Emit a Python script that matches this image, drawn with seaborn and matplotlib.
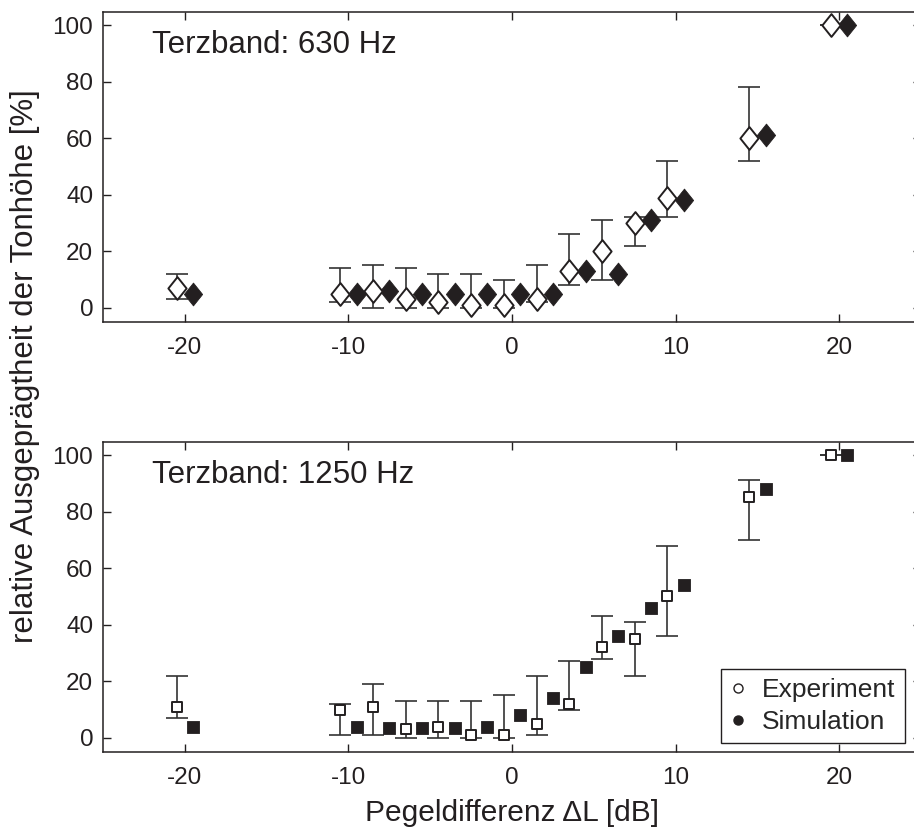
import numpy as np
import pandas as pd
import matplotlib
matplotlib.use("Agg")
import matplotlib.pyplot as plt
from matplotlib.path import Path
from matplotlib.lines import Line2D
import seaborn as sns

# Level differences (dB); experiment drawn slightly left, simulation slightly right
levels = [-20, -10, -8, -6, -4, -2, 0, 2, 4, 6, 8, 10, 15, 20]

# Third-octave band 630 Hz
exp_630 = [7, 5, 6, 3, 2, 1, 1, 3, 13, 20, 30, 39, 60, 100]
exp_630_lo = [3, 2, 0, 0, 0, 0, 0, 2, 8, 10, 22, 32, 52, 100]
exp_630_hi = [12, 14, 15, 14, 12, 12, 10, 15, 26, 31, 32, 52, 78, 100]
sim_630 = [5, 5, 6, 5, 5, 5, 5, 5, 13, 12, 31, 38, 61, 100]

# Third-octave band 1250 Hz
exp_1250 = [11, 10, 11, 3, 4, 1, 1, 5, 12, 32, 35, 50, 85, 100]
exp_1250_lo = [7, 1, 1, 0, 0, 0, 0, 1, 10, 28, 22, 36, 70, 100]
exp_1250_hi = [22, 12, 19, 13, 13, 13, 15, 22, 27, 43, 41, 68, 91, 100]
sim_1250 = [4, 4, 3.5, 3.5, 3.5, 4, 8, 14, 25, 36, 46, 54, 88, 100]

band_labels = ["Terzband: 630 Hz", "Terzband: 1250 Hz"]
x_ticks = [-20, -10, 0, 10, 20]
y_ticks = [0, 20, 40, 60, 80, 100]

INK = "#231f20"
sns.set_style("ticks")
plt.rcParams["font.family"] = ["Liberation Sans", "DejaVu Sans"]
plt.rcParams["axes.unicode_minus"] = False
plt.rcParams["axes.edgecolor"] = INK
plt.rcParams["axes.linewidth"] = 1.1

diamond = Path([(0, 1), (0.8, 0), (0, -1), (-0.8, 0), (0, 1)], closed=True)

W, H = 914, 827
fig = plt.figure(figsize=(W / 100, H / 100), dpi=100)


def frac_axes(left, right, top, bottom):
    return fig.add_axes([left / W, 1 - bottom / H, (right - left) / W, (bottom - top) / H])


ax1 = frac_axes(103, 921, 12, 322)
ax2 = frac_axes(103, 921, 442, 752)

panels = [
    (ax1, exp_630, exp_630_lo, exp_630_hi, sim_630, diamond, 270, 270),
    (ax2, exp_1250, exp_1250_lo, exp_1250_hi, sim_1250, "s", 48, 64),
]

for (ax, ev, lo, hi, sv, mk, s_exp, s_sim), label in zip(panels, band_labels):
    df = pd.DataFrame({
        "level": levels,
        "exp": ev,
        "lo": lo,
        "hi": hi,
        "sim": sv,
    })
    df["x_exp"] = df["level"] - 0.5
    df["x_sim"] = df["level"] + 0.5

    ax.errorbar(df["x_exp"], df["exp"],
                yerr=[df["exp"] - df["lo"], df["hi"] - df["exp"]],
                fmt="none", ecolor="#333333", elinewidth=1.2,
                capsize=8, capthick=1.2, zorder=2)
    sns.scatterplot(data=df, x="x_sim", y="sim", ax=ax, marker=mk, s=s_sim,
                    color=INK, edgecolor=INK, linewidth=0.6, zorder=3,
                    legend=False)
    sns.scatterplot(data=df, x="x_exp", y="exp", ax=ax, marker=mk, s=s_exp,
                    color="white", edgecolor=INK, linewidth=1.4, zorder=4,
                    legend=False)

    ax.set_xlim(-25, 25)
    ax.set_ylim(-5, 104.6)
    ax.set_xticks(x_ticks)
    ax.set_yticks(y_ticks)
    ax.set_xlabel("")
    ax.set_ylabel("")
    ax.tick_params(direction="in", length=6, width=1.0, color=INK,
                   top=True, right=True, labelsize=17.5, labelcolor=INK)
    ax.tick_params(axis="x", pad=11)
    ax.tick_params(axis="y", pad=7)
    for sp in ax.spines.values():
        sp.set_visible(True)
    ax.text(0.06, 0.868, label, transform=ax.transAxes, fontsize=22.5,
            color=INK, ha="left", va="baseline")

ax2.set_xlabel("Pegeldifferenz ΔL [dB]", fontsize=21.5, color=INK, labelpad=7)
fig.text(0.027, 0.557, "relative Ausgeprägtheit der Tonhöhe [%]", rotation=90,
         fontsize=22.5, color=INK, ha="center", va="center")

handles = [
    Line2D([], [], marker="o", ls="", mfc="white", mec=INK, mew=1.0, ms=6.5),
    Line2D([], [], marker="o", ls="", mfc=INK, mec=INK, ms=6.5),
]
leg = ax2.legend(handles, ["Experiment", "Simulation"], loc="lower right",
                 bbox_to_anchor=(0.980, 0.029), borderaxespad=0,
                 fontsize=19, frameon=True, fancybox=False, framealpha=1,
                 edgecolor=INK, handlelength=0.6, handletextpad=0.6,
                 borderpad=0.35, labelspacing=0.3)
leg.get_frame().set_linewidth(1.0)

fig.savefig("out.png", dpi=100)
